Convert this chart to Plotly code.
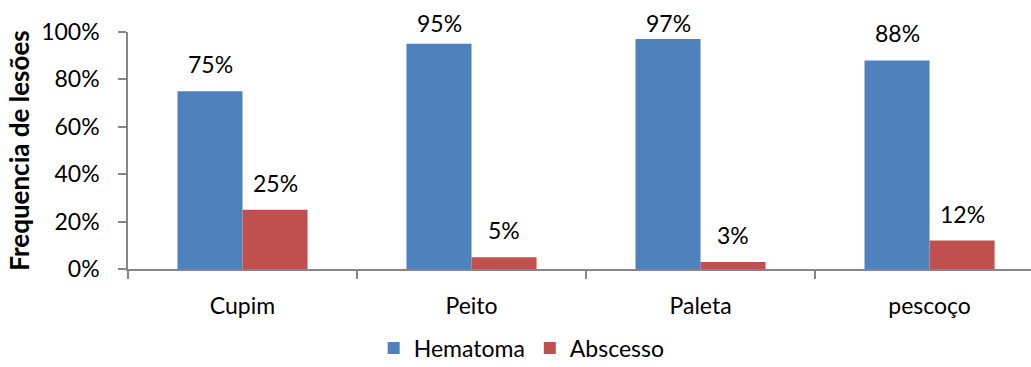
import plotly.graph_objects as go

# Lesion frequency by body region
categories = ["Cupim", "Peito", "Paleta", "pescoço"]
hematoma = [0.75, 0.95, 0.97, 0.88]
abscesso = [0.25, 0.05, 0.03, 0.12]
y_ticks = [0, 0.2, 0.4, 0.6, 0.8, 1.0]
y_tick_labels = ["0%", "20%", "40%", "60%", "80%", "100%"]

FONT = "Lato"
FS = 23
AXIS_GREY = "#868686"
LABEL_CAP = 0.925  # keep value labels of tall bars inside the plot area

fig = go.Figure()
fig.add_trace(go.Bar(name="Hematoma", x=categories, y=hematoma,
                     marker=dict(color="#4F81BD", line=dict(width=0))))
fig.add_trace(go.Bar(name="Abscesso", x=categories, y=abscesso,
                     marker=dict(color="#C0504D", line=dict(width=0))))

# value labels above each bar
annotations = []
for vals, shift in ((hematoma, -32.5), (abscesso, 32.5)):
    for cat, v in zip(categories, vals):
        annotations.append(dict(
            x=cat, y=min(v, LABEL_CAP), xref="x", yref="y", xshift=shift,
            yshift=11, text=f"{round(v * 100)}%", showarrow=False,
            yanchor="bottom",
            font=dict(family=FONT, size=FS, color="#000000")))

fig.update_layout(
    width=1031, height=367,
    margin=dict(l=128, r=0, t=32, b=98, autoexpand=False),
    paper_bgcolor="white", plot_bgcolor="white",
    barmode="group", bargap=0.432, bargroupgap=0,
    font=dict(family=FONT, size=FS, color="#000000"),
    showlegend=True,
    legend=dict(orientation="h", x=0.506, xref="container", xanchor="center",
                y=0.11, yref="container", yanchor="top",
                font=dict(family=FONT, size=FS),
                itemwidth=30, traceorder="normal"),
    annotations=annotations,
)
fig.update_xaxes(
    range=[-0.5, 3.443], showline=True, linecolor=AXIS_GREY, linewidth=1.5,
    ticks="outside", ticklen=8, tickcolor=AXIS_GREY, tickwidth=1.5,
    tickson="boundaries", showgrid=False, zeroline=False,
    tickfont=dict(family=FONT, size=FS), ticklabelstandoff=16,
)
fig.update_yaxes(
    range=[0, 1], tickvals=y_ticks, ticktext=y_tick_labels,
    showline=True, linecolor=AXIS_GREY, linewidth=1.5,
    ticks="outside", ticklen=8, tickcolor=AXIS_GREY, tickwidth=1.5,
    showgrid=False, zeroline=False, tickfont=dict(family=FONT, size=FS),
    ticklabelstandoff=14,
    title=dict(text="<b>Frequencia de lesões</b>", standoff=4,
               font=dict(family=FONT, size=26)),
)

fig.write_html("out.html")
